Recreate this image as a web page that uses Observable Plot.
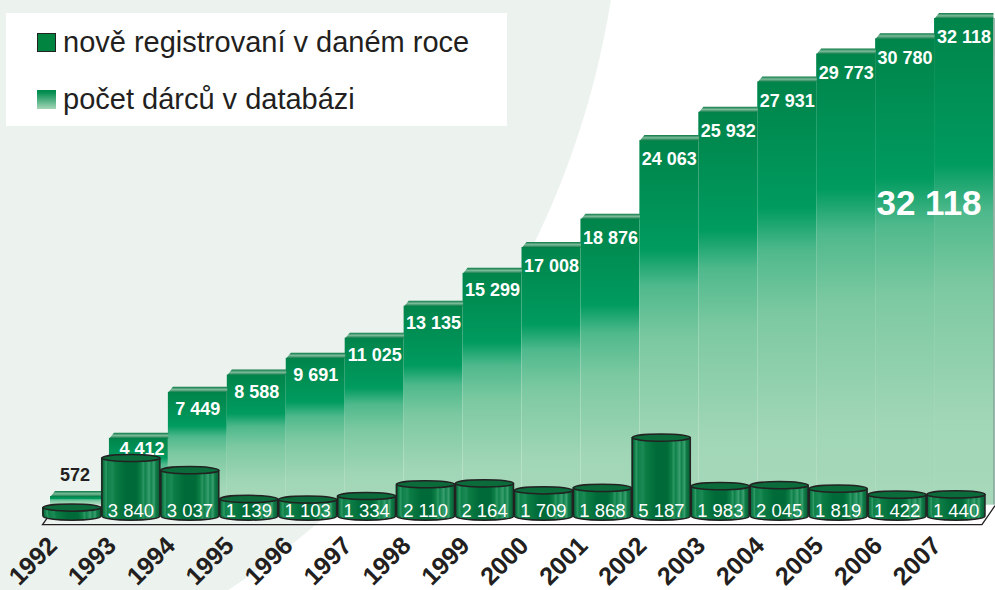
<!DOCTYPE html>
<html><head><meta charset="utf-8">
<script src="https://cdn.jsdelivr.net/npm/d3@7"></script>
<script src="https://cdn.jsdelivr.net/npm/@observablehq/plot@0.6"></script>
<style>
html,body{margin:0;padding:0;background:#fff}
#wrap{position:relative;width:995px;height:590px;overflow:hidden;font-family:"Liberation Sans",Arial,sans-serif;
 background:radial-gradient(circle 867px at -245px -136px,#ecf2ee 99.9%,#fff 100%)}
#legend{position:absolute;left:6px;top:13px;width:501px;height:113px;background:#fff;color:#231f20;font-size:29px}
#legend div{position:absolute;left:31px;white-space:nowrap}
#legend i{display:inline-block;width:19px;height:19px;margin-right:7px;vertical-align:0;box-sizing:border-box}
svg{position:absolute;left:0;top:0;background:transparent;overflow:hidden}
</style></head><body>
<div id="wrap"><div id="chart"></div>
<div id="legend">
<div style="top:13px"><i style="background:#00843f;border:1.5px solid #222"></i>nově registrovaní v daném roce</div>
<div style="top:70px"><i style="background:linear-gradient(#008c4f 10%,#a5d6b7)"></i>počet dárců v databázi</div>
</div></div>
<script>
const years=[1992,1993,1994,1995,1996,1997,1998,1999,2000,2001,2002,2003,2004,2005,2006,2007];
const totals=[572,4412,7449,8588,9691,11025,13135,15299,17008,18876,24063,25932,27931,29773,30780,32118];
const newlyRegistered=[572,3840,3037,1139,1103,1334,2110,2164,1709,1868,5187,1983,2045,1819,1422,1440];
const bigLabel="32 118";
const fmt=v=>d3.format(",")(v).replace(/,/g," ");
const total=years.map((year,i)=>({year,value:totals[i]}));
const fresh=years.map((year,i)=>({year,value:newlyRegistered[i]}));

const BW=58.9, DX=-8, DY=11;
const capSym={draw(c){c.moveTo(-BW/2,0);c.lineTo(-BW/2+4.5,-5.5);c.lineTo(BW/2,-5.5);c.lineTo(BW/2,0);c.closePath();}};
const ell=(ry)=>({draw(c){const a=BW/2-.5,k=.5523;c.moveTo(-a,0);
  c.bezierCurveTo(-a,-ry*k,-a*k,-ry,0,-ry);c.bezierCurveTo(a*k,-ry,a,-ry*k,a,0);
  c.bezierCurveTo(a,ry*k,a*k,ry,0,ry);c.bezierCurveTo(-a*k,ry,-a,ry*k,-a,0);c.closePath();}});
const floorSym={draw(c){c.moveTo(-BW/2-3,-7);c.lineTo(-BW/2-8,0);c.lineTo(902,0);c.lineTo(915,-19);}};

const stripeStops=[[0,"#0a5a34"],[.05,"#0d7a45"],[.09,"#2f9a66"],[.11,"#0f8048"],[.2,"#1b8a55"],[.24,"#0c7d45"],[.42,"#006b38"],[.6,"#006a38"],[.68,"#0d7f46"],[.72,"#2d9764"],[.75,"#0e8149"],[.82,"#3a9f6f"],[.85,"#10834b"],[.9,"#3a9f6f"],[.93,"#0e7d46"],[1,"#0a5a34"]];
const chart=Plot.plot({
  width:995,height:590,marginTop:0,marginLeft:0,marginRight:0,marginBottom:50,
  style:{background:"transparent",fontFamily:'"Liberation Sans",Arial,sans-serif'},
  x:{type:"band",domain:years,range:[50,993],padding:0,round:false,label:null},
  y:{domain:[0,32118],range:[504.7,18],label:null,axis:null},
  marks:[
    ()=>{const ns="http://www.w3.org/2000/svg";const d=document.createElementNS(ns,"defs");
      const grad=(id,stops,h)=>{const g=document.createElementNS(ns,"linearGradient");g.id=id;
        if(h){g.setAttribute("x2","1");g.setAttribute("y2","0")}else{g.setAttribute("x2","0");g.setAttribute("y2","1")}
        stops.forEach(([o,c])=>{const s=document.createElementNS(ns,"stop");s.setAttribute("offset",o);s.setAttribute("stop-color",c);g.appendChild(s)});d.appendChild(g)};
      grad("back",[[0,"#00844a"],[.3,"#009b5f"],[.4,"#4fb98c"],[.55,"#7cc9a1"],[.82,"#a0d6b6"],[1,"#a7d8ba"]]);
      grad("cap",[[0,"#0b7a45"],[.5,"#7dbb9b"],[1,"#0b7a45"]]);
      grad("cyl",stripeStops,true);
      return d;},
    Plot.barY(total,{x:"year",y:"value",fill:"url(#back)"}),
    Plot.dot(total,{x:"year",y:"value",symbol:capSym,fill:"url(#cap)"}),
    Plot.ruleX(total.slice(-1),{x:"year",y1:0,y2:"value",stroke:"#2a6a50",strokeWidth:1,dx:BW/2+.5}),
    Plot.text(total.slice(1,2),{x:"year",y:"value",text:d=>fmt(d.value),fill:"#fff",fontWeight:"bold",fontSize:18,dy:11,dx:3}),
    Plot.dot([{year:1992,value:0}],{x:"year",y:"value",symbol:floorSym,fill:"none",stroke:"#231f20",strokeWidth:1.3,dy:19.5}),
    Plot.dot(fresh,{x:"year",y:()=>0,symbol:ell(4),fill:"url(#cyl)",stroke:"#222",strokeWidth:1.5,dx:DX,dy:DY}),
    Plot.barY(fresh,{x:"year",y:"value",fill:"url(#cyl)",dx:DX,dy:DY}),
    Plot.ruleX(fresh,{x:"year",y1:0,y2:"value",stroke:"#222",strokeWidth:1.5,dx:DX-BW/2+.5,dy:DY}),
    Plot.ruleX(fresh,{x:"year",y1:0,y2:"value",stroke:"#222",strokeWidth:1.5,dx:DX+BW/2-.5,dy:DY}),
    Plot.dot(fresh,{x:"year",y:"value",symbol:ell(3.6),fill:"#0b6b3a",stroke:"#222",strokeWidth:1.5,dx:DX,dy:DY}),
    Plot.text(total.slice(2,8),{x:"year",y:"value",text:d=>fmt(d.value),fill:"#fff",fontWeight:"bold",fontSize:18,dy:17}),
    Plot.text(total.slice(8),{x:"year",y:"value",text:d=>fmt(d.value),fill:"#fff",fontWeight:"bold",fontSize:18,dy:19}),
    Plot.text(total.slice(0,1),{x:"year",y:"value",text:d=>fmt(d.value),fill:"#231f20",fontWeight:"bold",fontSize:18,dy:-21,dx:-5}),
    Plot.text(fresh.slice(1),{x:"year",y:()=>0,text:d=>fmt(d.value),fill:"#fff",fontSize:18.5,dx:DX,dy:5.5}),
    Plot.text([{year:2007,value:32118}],{x:"year",y:()=>0,text:()=>bigLabel,fill:"#fff",fontWeight:"bold",fontSize:35,dx:-35,dy:-301}),
    Plot.axisX({anchor:"bottom",tickSize:0,tickPadding:0,tickRotate:-45,fontSize:25,fontWeight:"bold",fill:"#231f20",label:null,tickFormat:d=>String(d),dx:-27,dy:1})
  ]
});
document.getElementById("chart").appendChild(chart);
</script></body></html>
